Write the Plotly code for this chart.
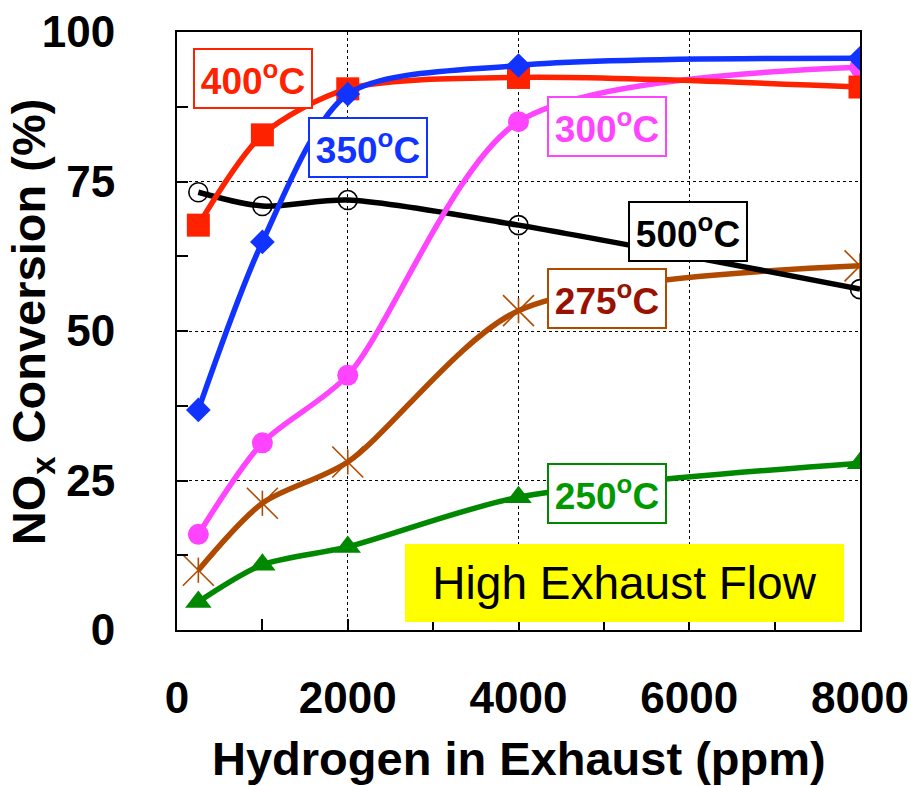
import plotly.graph_objects as go

# ---- data ----
h2_ppm = [250, 1000, 2000, 4000, 8000]
conv_400 = [67.7, 82.8, 90.5, 92.4, 90.8]
conv_350 = [36.8, 64.9, 89.6, 94.4, 95.6]
conv_300 = [16.0, 31.3, 42.6, 85.0, 94.1]
conv_500 = [73.2, 70.9, 71.9, 67.7, 57.0]
conv_275 = [10.0, 21.2, 28.1, 53.4, 60.9]
conv_250 = [4.7, 10.9, 13.9, 22.2, 27.9]

x_ticks = [0, 2000, 4000, 6000, 8000]
y_ticks = [0, 25, 50, 75, 100]

FONT = "Liberation Sans, Arial, sans-serif"

RED = "#FF2200"
BLUE = "#1133FF"
PINK = "#FF44FF"
BLACK = "#000000"
BROWN = "#B04A00"
BROWN_TXT = "#991100"
GREEN = "#008800"
GREEN_TXT = "#009900"

LW = 5.5
SMOOTH = 0.8

fig = go.Figure()

def line_trace(y, color, marker):
    fig.add_trace(go.Scatter(
        x=h2_ppm, y=y, mode="lines+markers",
        line=dict(color=color, width=LW, shape="spline", smoothing=SMOOTH),
        marker=marker, showlegend=False, hoverinfo="x+y"))

line_trace(conv_250, GREEN, dict(symbol="triangle-up", size=23, color=GREEN))
line_trace(conv_275, BROWN, dict(symbol="x-thin-open", size=31, color=BROWN,
                                  line=dict(color=BROWN, width=1.6)))
fig.add_trace(go.Scatter(x=h2_ppm, y=conv_275, mode="markers",
                         marker=dict(symbol="line-ns-open", size=18, color=BROWN,
                                     line=dict(color=BROWN, width=1.6)),
                         showlegend=False, hoverinfo="skip"))
line_trace(conv_500, BLACK, dict(symbol="circle-open", size=19, color=BLACK,
                                  line=dict(color=BLACK, width=1.6)))
line_trace(conv_300, PINK, dict(symbol="circle", size=21, color=PINK))
line_trace(conv_400, RED, dict(symbol="square", size=23, color=RED))
line_trace(conv_350, BLUE, dict(symbol="diamond", size=19, color=BLUE))

# ---- series labels ----
def px_to_data(px, py):
    return (px - 177) / 683 * 8000, (630 - py) / 598 * 100

labels = [
    ("400", RED, RED, 253, 78),
    ("350", BLUE, BLUE, 368, 147),
    ("300", PINK, PINK, 607, 126),
    ("500", BLACK, BLACK, 688, 231),
    ("275", BROWN_TXT, BROWN, 607, 298),
    ("250", GREEN_TXT, GREEN, 607, 493),
]
for t, tc, bc, px, py in labels:
    x, y = px_to_data(px, py)
    fig.add_annotation(
        x=x, y=y, xref="x", yref="y", showarrow=False,
        text=f"<b>{t}<sup>o</sup>C</b>",
        font=dict(family=FONT, size=37, color=tc),
        bgcolor="white", bordercolor=bc, borderwidth=2, borderpad=2,
        width=112, height=53, align="center", valign="middle")

x, y = px_to_data(624.5, 583)
fig.add_annotation(
    x=x, y=y, xref="x", yref="y", showarrow=False,
    text="High Exhaust Flow",
    font=dict(family=FONT, size=46, color="black"),
    bgcolor="#FFFF00", borderwidth=0, borderpad=0,
    width=439, height=78, align="center", valign="middle")

# ---- axis titles ----
fig.add_annotation(
    x=0.5, y=-0.215, xref="paper", yref="paper", showarrow=False,
    text="<b>Hydrogen in Exhaust (ppm)</b>",
    font=dict(family=FONT, size=47, color="black"),
    xanchor="center", yanchor="middle")
fig.add_annotation(
    x=-0.212, y=0.515, xref="paper", yref="paper", showarrow=False,
    text="<b>NO<sub>x</sub> Conversion (%)</b>", textangle=-90,
    font=dict(family=FONT, size=47, color="black"),
    xanchor="center", yanchor="middle")

axis_common = dict(
    showline=True, linecolor="black", linewidth=2, mirror=True,
    showgrid=True, gridcolor="black", gridwidth=1, griddash="dot",
    ticks="inside", ticklen=11, tickwidth=1.5, tickcolor="black",
    zeroline=False,
    tickfont=dict(family=FONT, size=44, color="black", weight="bold"),
)

fig.update_xaxes(range=[0, 8000], tickmode="array", tickvals=x_ticks,
                 ticktext=[str(v) for v in x_ticks],
                 minor=dict(dtick=1000, tick0=0, ticks="inside", ticklen=11,
                            tickwidth=1.5, tickcolor="black", showgrid=False),
                 ticklabelstandoff=28, **axis_common)
fig.update_yaxes(range=[0, 100], tickmode="array", tickvals=y_ticks,
                 ticktext=[str(v) for v in y_ticks],
                 minor=dict(dtick=12.5, tick0=0, ticks="inside", ticklen=11,
                            tickwidth=1.5, tickcolor="black", showgrid=False),
                 ticklabelstandoff=51, **axis_common)

fig.update_layout(
    width=911, height=786,
    margin=dict(l=177, r=51, t=32, b=156, autoexpand=False),
    plot_bgcolor="white", paper_bgcolor="white",
    font=dict(family=FONT),
)

fig.write_html("out.html")
